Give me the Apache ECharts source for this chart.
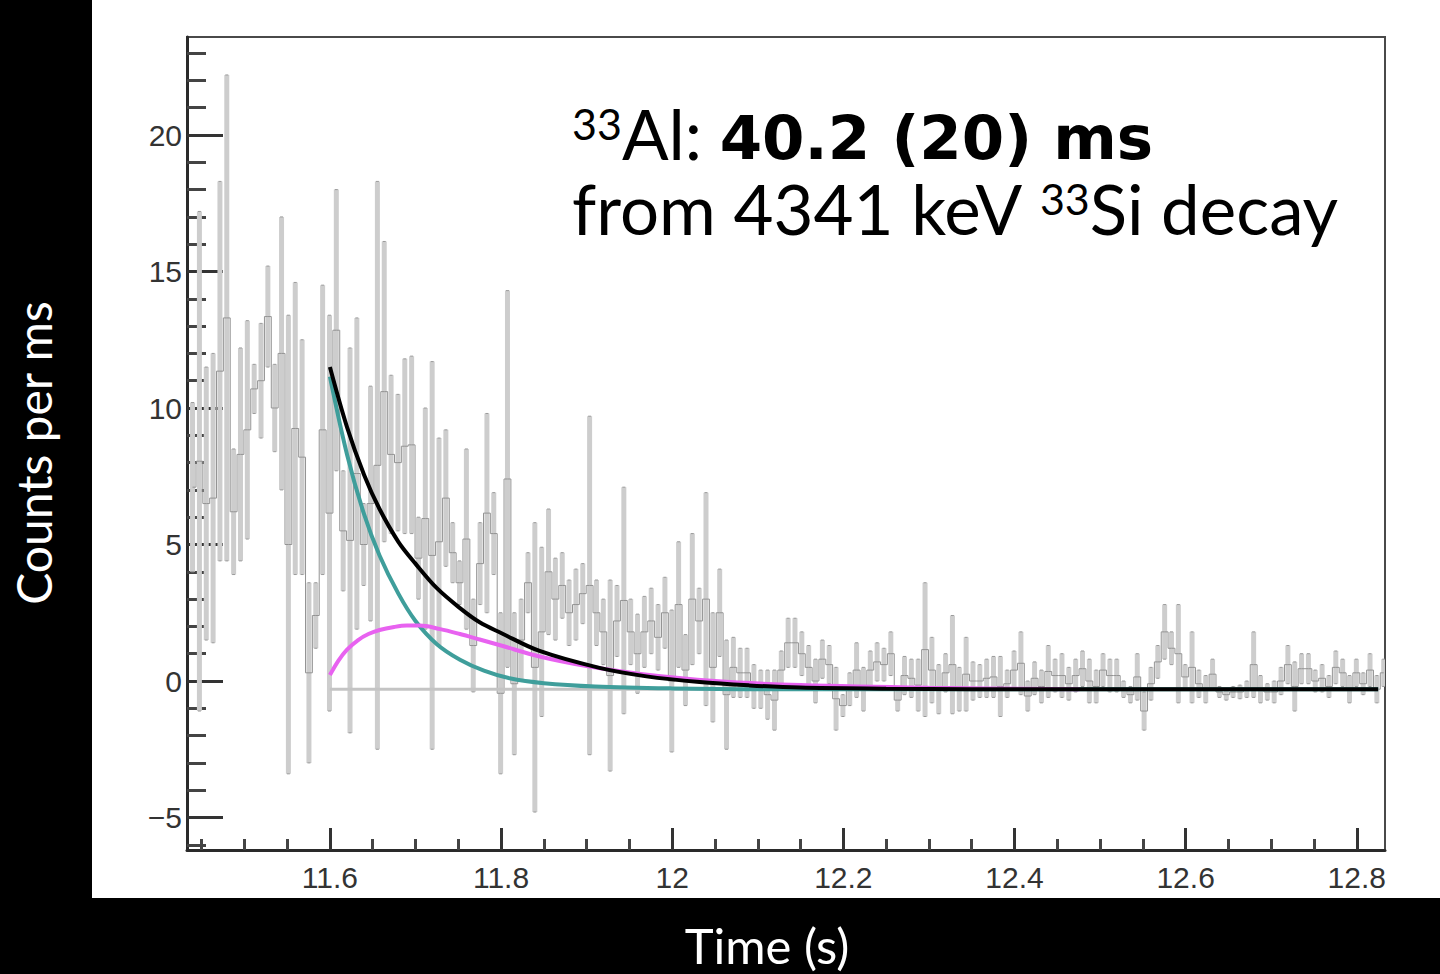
<!DOCTYPE html>
<html>
<head>
<meta charset="utf-8">
<script src="https://cdn.jsdelivr.net/npm/echarts@6/dist/echarts.min.js"></script>
<style>
html,body{margin:0;padding:0;background:#000;}
#c{width:1440px;height:974px;}
</style>
</head>
<body>
<div id="c"></div>
<script>
// ---------- DATA ----------
const binStart = 11.4355;  // left edge of first bin (s)
const binWidth = 0.008;    // 8 ms bins
const counts = [
 7.1, 8.05, 6.5, 6.7, 11.35, 13.3, 6.2, 8.3, 9.2, 10.7, 11, 13.35, 10, 12, 5, 9.25, 8.2, 0.3, 2.4, 9.2, 6.15,
 12.85, 5.5, 5.15, 7.6, 5, 6.5, 7.9, 10.6, 8.3, 8, 8.6, 8.65, 4.5, 5.95, 4.6, 5.1, 6.7, 4.7, 3.6, 5.2,
 1.3, 4.3, 6.15, 5.4, -0.45, 7.4, -0.1, 1.5, 3.6, 0.5, 1.8, 4, 3, 3.5, 2.5, 2.8, 3.2, 3.5, 2.5, 1.8,
 0.2, 2.2, 2.95, 1.8, 1, 1.8, 2.2, 1.6, 2.5, 0, 2.8, 0.4, 3, 2.2, 3, 0.5, 2.5, -0.5, 0.5, 0.3,
 0.3, -0.2, -0.3, -0.5, -0.7, 0.4, 1.4, 1.4, 1, 0.5, 0, 0.8, 0.6, -0.65, -0.9, -0.3, 0.4, -0.3, 0.4, 0.7,
 0.6, 1, -0.7, 0.2, 0.1, -0.15, 1.15, 0.4, -0.3, 0.3, 0.6, -0.3, 0.25, 0, 0, 0.1, 0.15, -0.2, -0.1, 0.4,
 0.65, -0.55, 0.1, -0.2, 0.35, 0.2, 0.2, -0.1, 0.2, 0.45, 0, -0.2, 0.4, 0.2, 0.2, -0.3, -0.5, 0.15, -1.1, -0.1,
 0.7, 1.8, 1.2, 1, 0.15, 0.5, -0.1, -0.3, 0.25, -0.4, -0.5, -0.4, -0.4, -0.3, 0.6, -0.3, -0.4, -0.4, 0, 0.6,
 -0.2, 0.45, 0.45, 0, 0.1, -0.2, 0.5, 0.3, -0.3, 0.3, -0.1, 0.4, -0.3, 0.3
];
const errors = [
 3.1, 9.15, 5, 5.3, 6.95, 8.9, 2.3, 3.9, 4, 0.9, 2.1, 1.85, 1.6, 5, 8.4, 5.35, 4.3, 3.3, 1.2, 5.3, 7.25,
 5.15, 2.2, 7.05, 5.7, 1.5, 4.3, 10.4, 5.5, 2.9, 2.5, 3.2, 3.25, 1.5, 4.05, 7.1, 3.8, 2.5, 1.1, 0.8, 3.3,
 1.7, 1.5, 3.65, 1.5, 2.95, 6.9, 2.6, 1.5, 1.1, 5.3, 3.1, 2.3, 1.5, 1.2, 1.2, 1.3, 1.1, 6.2, 1.2, 1.2,
 3.5, 1.3, 4.15, 1.2, 1.45, 1.3, 1.2, 1.2, 1.3, 2.6, 2.3, 1.3, 2.4, 1.2, 3.9, 2, 1.6, 2, 1.1, 0.9,
 0.9, 0.8, 0.7, 0.9, 1.1, 0.7, 0.9, 0.9, 0.8, 0.8, 0.8, 0.7, 0.7, 1.15, 0.4, 0.6, 1, 0.8, 0.7, 0.7,
 0.6, 0.8, 0.4, 0.7, 0.7, 0.95, 2.45, 1.2, 0.9, 0.7, 1.8, 0.8, 1.35, 0.7, 0.6, 0.7, 0.75, 1.1, 0.5, 0.7,
 1.15, 0.55, 0.6, 0.6, 0.95, 0.6, 0.8, 0.6, 0.6, 0.65, 0.8, 0.6, 0.6, 0.6, 0.6, 0.3, 0.3, 0.85, 0.7, 0.6,
 0.6, 1, 0.6, 1.8, 0.45, 1.3, 0.5, 0.5, 0.55, 0.2, 0.2, 0.2, 0.25, 0.3, 1.2, 0.5, 0.3, 0.4, 0.5, 0.7,
 0.9, 0.55, 0.55, 0.4, 0.5, 0.4, 0.6, 0.5, 0.5, 0.5, 0.4, 0.6, 0.5, 0.5
];
// fit curves: [time (s), counts per ms]
const totalFit = [[11.600,11.5],[11.62,9.3],[11.64,7.55],[11.658,6.3],[11.68,5.1],[11.70,4.3],[11.725,3.4],[11.752,2.67],[11.775,2.15],[11.80,1.76],[11.845,1.1],[11.915,0.48],[11.97,0.17],[12.032,-0.04],[12.09,-0.16],[12.149,-0.24],[12.25,-0.28],[12.35,-0.3],[12.825,-0.3]];
const parentFit = [[11.600,11.15],[11.62,8.3],[11.64,6.1],[11.658,4.6],[11.68,3.2],[11.70,2.2],[11.725,1.35],[11.752,0.78],[11.78,0.38],[11.81,0.1],[11.85,-0.08],[11.91,-0.2],[12.0,-0.27],[12.1,-0.3],[12.825,-0.3]];
const daughterFit = [[11.600,0.22],[11.61,0.75],[11.62,1.15],[11.633,1.5],[11.645,1.72],[11.658,1.87],[11.675,1.98],[11.69,2.03],[11.705,2.03],[11.729,1.9],[11.752,1.72],[11.775,1.52],[11.80,1.3],[11.845,0.9],[11.90,0.55],[11.963,0.26],[12.05,0.0],[12.15,-0.15],[12.3,-0.25],[12.476,-0.3]];
const baseline = [[11.6,-0.3],[12.825,-0.3]];
const xMajor = [11.6, 11.8, 12, 12.2, 12.4, 12.6, 12.8];
const xMinor = [11.45,11.5,11.55,11.65,11.7,11.75,11.85,11.9,11.95,12.05,12.1,12.15,12.25,12.3,12.35,12.45,12.5,12.55,12.65,12.7,12.75];
const yMajor = [-5, 0, 5, 10, 15, 20];
const yMinor = [-6,-4,-3,-2,-1,1,2,3,4,6,7,8,9,11,12,13,14,16,17,18,19,21,22,23];
const xRange = [11.433, 12.833];
const yRange = [-6.19, 23.59];

// ---------- BUILD ----------
const centers = counts.map((_, i) => +(binStart + binWidth * (i + 0.5)).toFixed(4));
const histData = counts.map((v, i) => [centers[i], v]);
const errData = counts.map((v, i) => [centers[i], v, errors[i]]);
const fmt = v => String(v).replace('-', '\u2212');

const chart = echarts.init(document.getElementById('c'), null, {renderer: 'svg'});
const tickFont = {fontFamily: 'Liberation Sans, Arial, sans-serif', fontSize: 30, color: '#333'};

chart.setOption({
  animation: false,
  backgroundColor: '#000',
  grid: {left: 187, right: 55, top: 37, bottom: 124, show: true, borderColor: '#4a4a4a', borderWidth: 2, backgroundColor: 'transparent'},
  xAxis: [
    {type: 'value', min: xRange[0], max: xRange[1], position: 'bottom',
     axisLine: {show: true, onZero: false, lineStyle: {color: '#2a2a2a', width: 3}},
     axisTick: {show: true, inside: true, length: 22, customValues: xMajor, lineStyle: {color: '#333', width: 3}},
     axisLabel: Object.assign({show: true, customValues: xMajor, margin: 12, formatter: fmt}, tickFont),
     splitLine: {show: false}},
    {type: 'value', min: xRange[0], max: xRange[1], position: 'bottom',
     axisLine: {show: false, onZero: false},
     axisTick: {show: true, inside: true, length: 11, customValues: xMinor, lineStyle: {color: '#444', width: 3}},
     axisLabel: {show: false}, splitLine: {show: false}}
  ],
  yAxis: [
    {type: 'value', min: yRange[0], max: yRange[1], position: 'left',
     axisLine: {show: true, onZero: false, lineStyle: {color: '#2a2a2a', width: 3}},
     axisTick: {show: true, inside: true, length: 36, customValues: yMajor, lineStyle: {color: '#333', width: 3}},
     axisLabel: Object.assign({show: true, customValues: yMajor, margin: 5, formatter: fmt}, tickFont),
     splitLine: {show: false}},
    {type: 'value', min: yRange[0], max: yRange[1], position: 'left',
     axisLine: {show: false, onZero: false},
     axisTick: {show: true, inside: true, length: 19, customValues: yMinor, lineStyle: {color: '#444', width: 3}},
     axisLabel: {show: false}, splitLine: {show: false}}
  ],
  graphic: [
    {type: 'rect', z: -100, shape: {x: 92, y: 0, width: 1348, height: 898}, style: {fill: '#fff'}},
    {type: 'text', z: 100, x: 33, y: 453, rotation: Math.PI / 2,
     style: {text: 'Counts per ms', fill: '#fff', font: '48px Lato, "Noto Sans", sans-serif', align: 'center', verticalAlign: 'middle'}},
    {type: 'text', z: 100, x: 767, y: 945,
     style: {text: 'Time (s)', fill: '#fff', font: '49px Lato, "Noto Sans", sans-serif', align: 'center', verticalAlign: 'middle'}},
    {type: 'text', z: 100, x: 572, y: 102,
     style: {
       text: '{s|33}{n|Al: }{b|40.2 (20) ms}',
       verticalAlign: 'top', align: 'left',
       rich: {
         s: {fontSize: 43, fontFamily: 'Lato', fill: '#000', verticalAlign: 'top', lineHeight: 40},
         n: {fontSize: 69, fontFamily: 'Lato', fill: '#000', verticalAlign: 'bottom', lineHeight: 66},
         b: {fontSize: 61, fontFamily: 'DejaVu Sans', fontWeight: 'bold', fill: '#000', verticalAlign: 'bottom', lineHeight: 51}
       }
     }},
    {type: 'text', z: 100, x: 572, y: 177,
     style: {
       text: '{n|from 4341 keV }{s|33}{n|Si decay}',
       verticalAlign: 'top', align: 'left',
       rich: {
         s: {fontSize: 43, fontFamily: 'Lato', fill: '#000', verticalAlign: 'top', lineHeight: 44},
         n: {fontSize: 69, fontFamily: 'Lato', fill: '#000', verticalAlign: 'bottom', lineHeight: 66}
       }
     }}
  ],
  series: [
    {type: 'custom', name: 'errors', xAxisIndex: 0, yAxisIndex: 0, z: 1, clip: true,
     encode: {x: 0, y: 1},
     data: errData,
     renderItem: function (params, api) {
       const x = api.value(0), v = api.value(1), e = api.value(2);
       const top = api.coord([x, v + e]);
       const bot = api.coord([x, v - e]);
       const w = 5;
       return {type: 'group', children: [
         {type: 'rect', shape: {x: top[0] - w / 2, y: top[1], width: w, height: Math.max(1, bot[1] - top[1])}, style: {fill: '#cdcdcd'}},
         {type: 'line', shape: {x1: top[0] - 1.5, y1: top[1], x2: top[0] + 1.5, y2: top[1]}, style: {stroke: '#9a9a9a', lineWidth: 1}},
         {type: 'line', shape: {x1: bot[0] - 1.5, y1: bot[1], x2: bot[0] + 1.5, y2: bot[1]}, style: {stroke: '#9a9a9a', lineWidth: 1}}
       ]};
     }},
    {type: 'line', name: 'histogram', data: histData, step: 'middle', symbol: 'none', z: 2,
     lineStyle: {color: '#939393', width: 1}},
    {type: 'line', name: 'baseline', data: baseline, symbol: 'none', z: 3,
     lineStyle: {color: '#c4c4c4', width: 3}},
    {type: 'line', name: 'parent', data: parentFit, smooth: 0.35, symbol: 'none', z: 4,
     lineStyle: {color: '#3f9e9b', width: 4}},
    {type: 'line', name: 'daughter', data: daughterFit, smooth: 0.35, symbol: 'none', z: 5,
     lineStyle: {color: '#e862f0', width: 4}},
    {type: 'line', name: 'total', data: totalFit, smooth: 0.35, symbol: 'none', z: 6,
     lineStyle: {color: '#000', width: 4}}
  ]
});
</script>
</body>
</html>
